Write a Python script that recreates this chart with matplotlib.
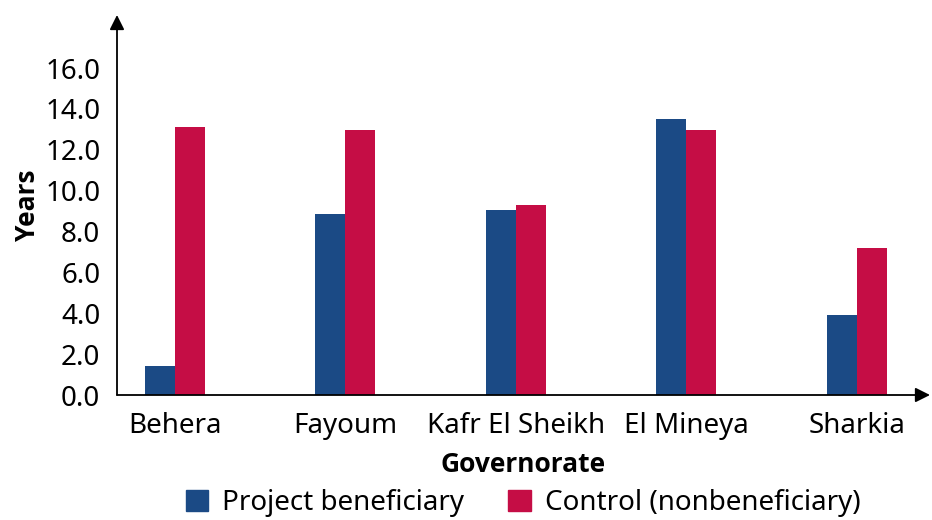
import matplotlib
matplotlib.use("Agg")
import matplotlib.pyplot as plt
import numpy as np
from matplotlib.patches import Patch

categories = ["Behera", "Fayoum", "Kafr El Sheikh", "El Mineya", "Sharkia"]
beneficiary = [1.42, 8.87, 9.07, 13.53, 3.92]
control = [13.14, 12.99, 9.31, 12.99, 7.2]
series_names = ["Project beneficiary", "Control (nonbeneficiary)"]
yticks = [0, 2, 4, 6, 8, 10, 12, 14, 16]

BLUE = "#1B4A85"
RED = "#C50D45"

plt.rcParams['font.family'] = ['Noto Sans', 'DejaVu Sans']

fig = plt.figure(figsize=(9.32, 5.2), dpi=100)
ax = fig.add_axes([117/932, 125/520, (930-117)/932, 380/520])

x = np.arange(len(categories))
w = 0.176
ax.bar(x - w/2, beneficiary, w, color=BLUE, label=series_names[0])
ax.bar(x + w/2, control, w, color=RED, label=series_names[1])

ax.set_xlim(-0.34, 4.43)
ax.set_ylim(0, 18.6)
for s in ax.spines.values():
    s.set_visible(False)

# axes with arrows
ax.annotate('', xy=(0, 1.0), xytext=(0, 0), xycoords='axes fraction',
            arrowprops=dict(arrowstyle='-|>', color='black', lw=1.3,
                            mutation_scale=22, shrinkA=0, shrinkB=0))
ax.annotate('', xy=(1.0, 0), xytext=(0, 0), xycoords='axes fraction',
            arrowprops=dict(arrowstyle='-|>', color='black', lw=1.3,
                            mutation_scale=22, shrinkA=0, shrinkB=0))

ax.set_yticks(yticks)
ax.set_yticklabels([f"{v:.1f}" for v in yticks])
ax.set_xticks(x)
ax.set_xticklabels(categories)
ax.tick_params(axis='both', length=0, labelsize=20)
ax.tick_params(axis='y', pad=12)
ax.tick_params(axis='x', pad=12)

bold = dict(family=['Open Sans', 'DejaVu Sans'], fontweight='bold', fontsize=19)
ax.set_ylabel("Years", labelpad=3, **bold)
ax.set_xlabel("Governorate", labelpad=8, **bold)

handles = [Patch(color=BLUE), Patch(color=RED)]
fig.legend(handles, series_names, loc='center', bbox_to_anchor=(523/932, 1 - 503/520),
           ncol=2, frameon=False, fontsize=20, handlelength=0.8, handleheight=0.8,
           handletextpad=0.5, columnspacing=1.6, borderpad=0)

fig.savefig("out.png", dpi=100, facecolor='white')
